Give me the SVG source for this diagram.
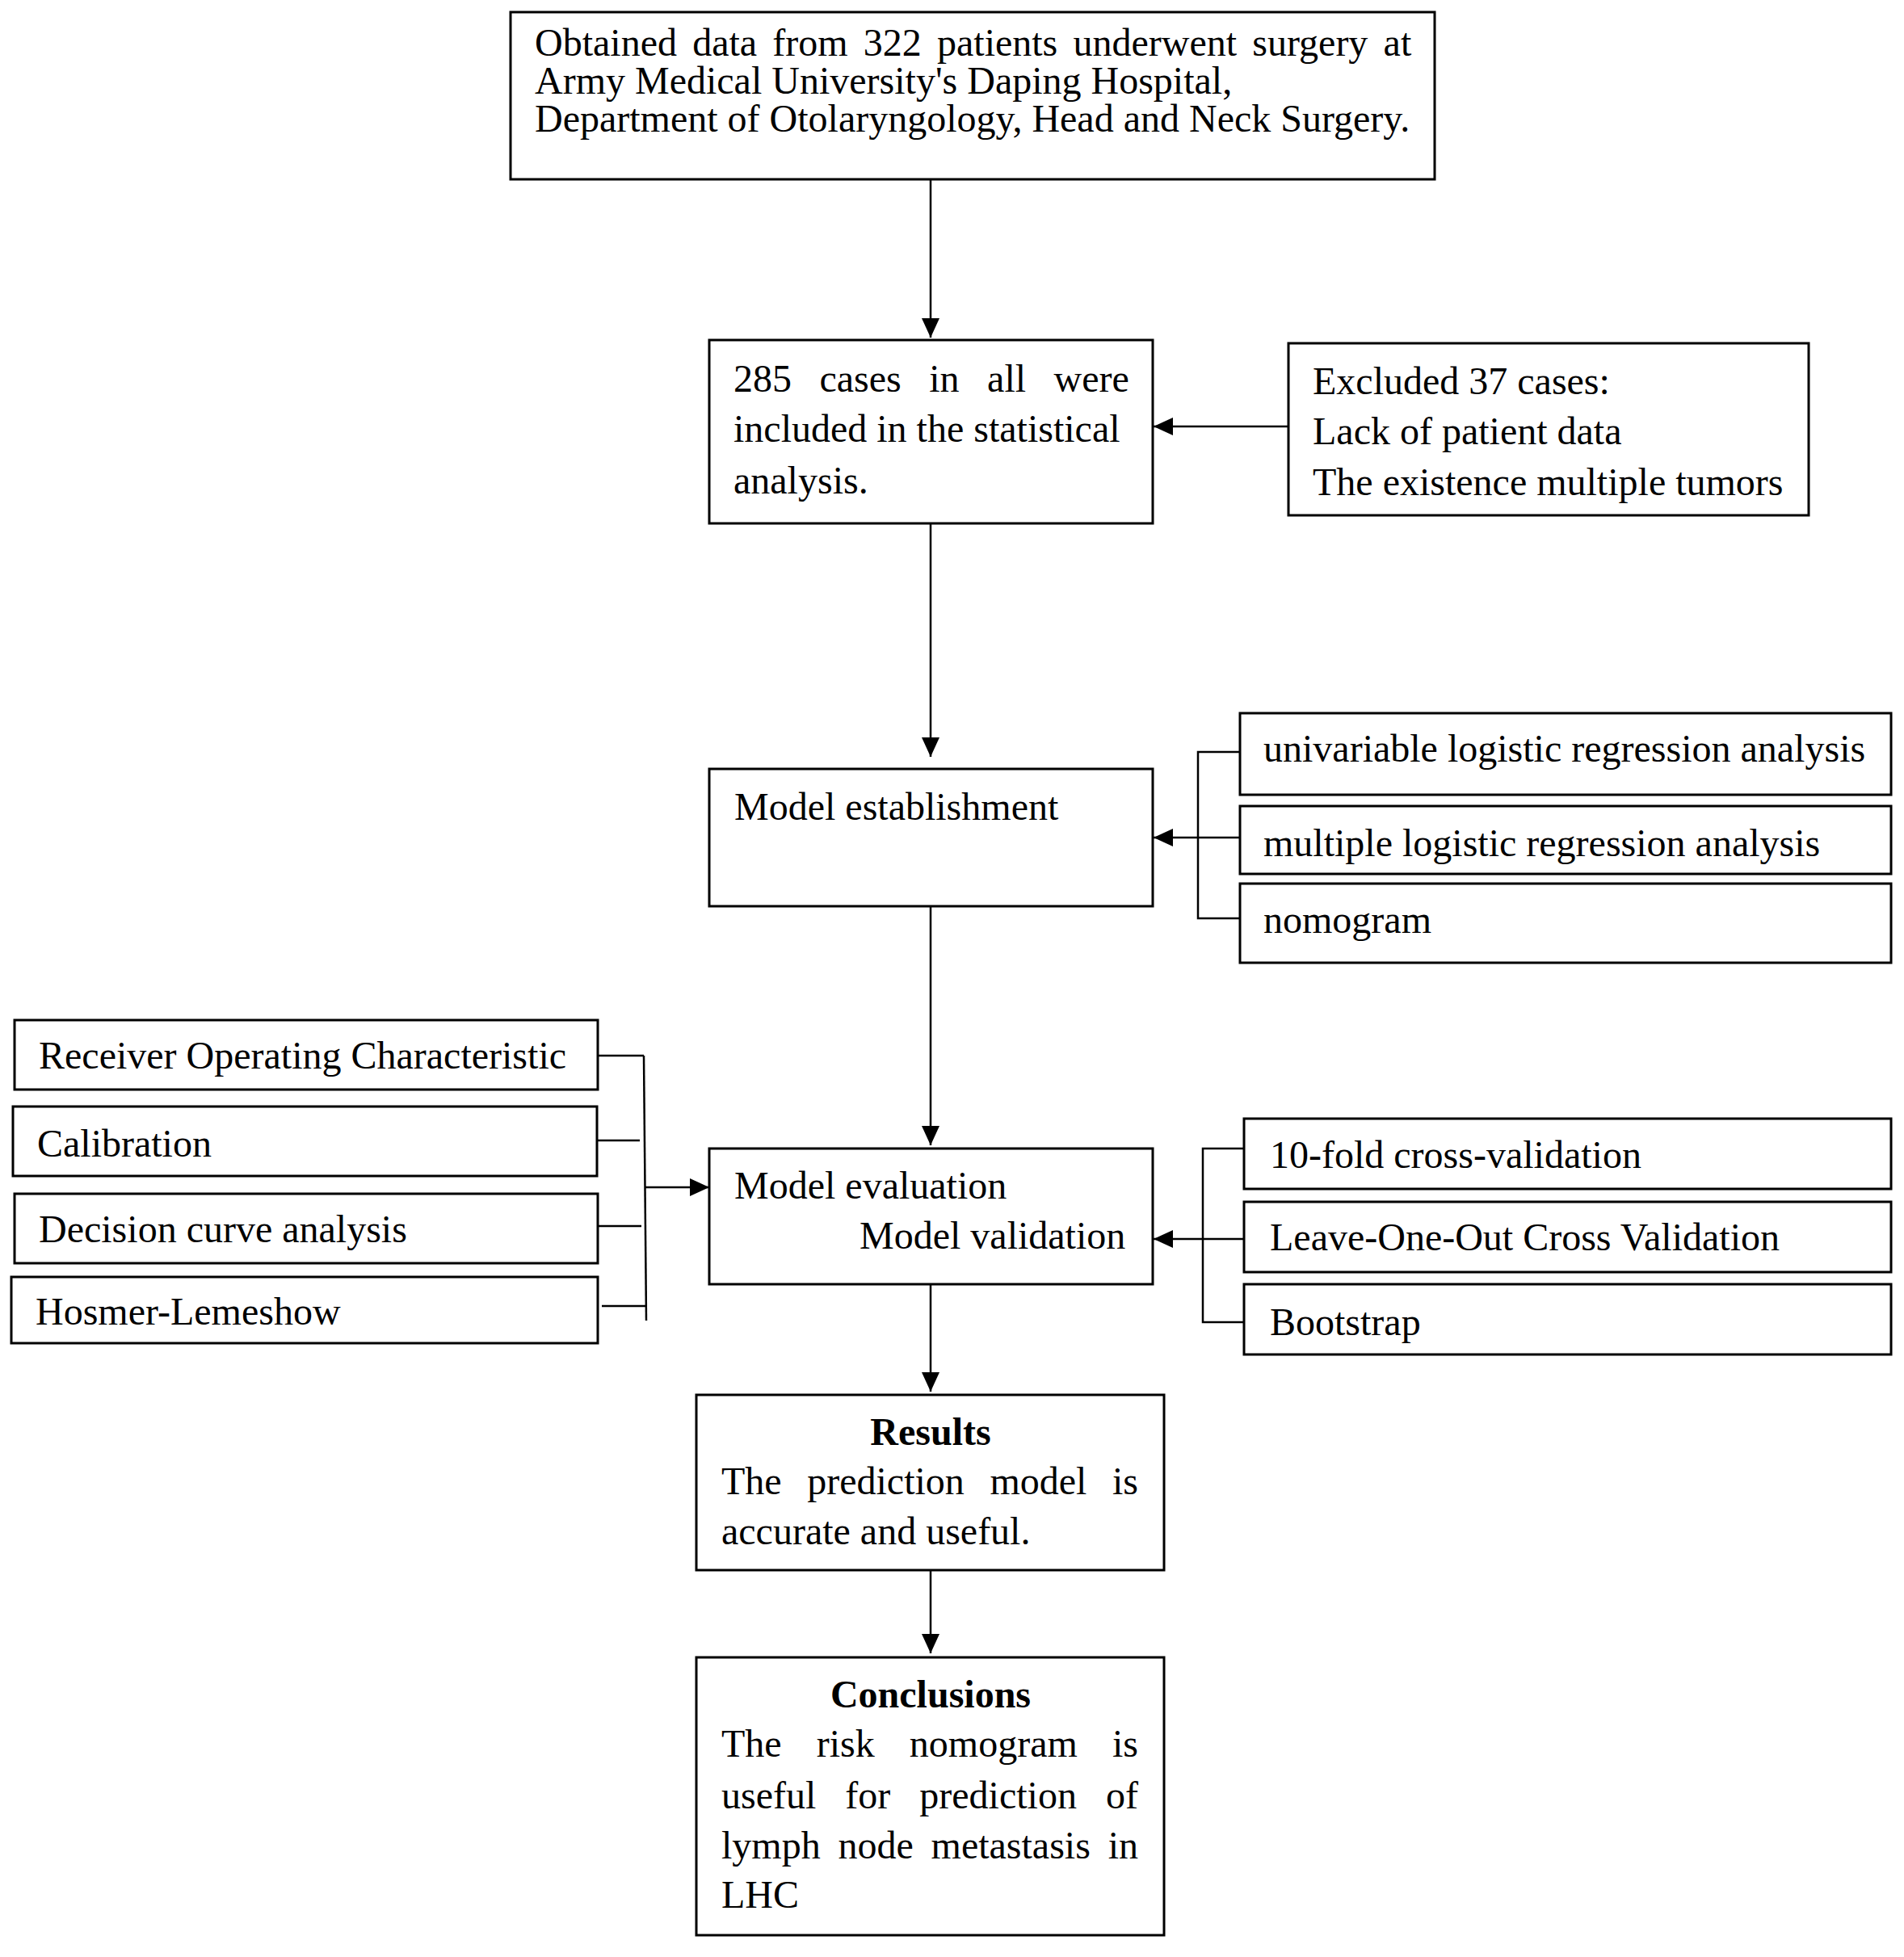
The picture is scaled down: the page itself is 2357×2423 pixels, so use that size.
<svg xmlns="http://www.w3.org/2000/svg" width="2357" height="2423" viewBox="0 0 2357 2423">
<style>
  .box { fill: #ffffff; stroke: #000000; stroke-width: 3; }
  .t { font-family: "Liberation Serif", "Times New Roman", serif; font-size: 48px; fill: #000000; }
  .b { font-weight: bold; text-anchor: middle; }
  .ln { fill: none; stroke: #000000; stroke-width: 2.5; }
</style>
<defs>
  <marker id="ah" markerUnits="userSpaceOnUse" markerWidth="24" markerHeight="22" refX="24" refY="11" orient="auto">
    <path d="M0,0 L24,11 L0,22 z" fill="#000000"/>
  </marker>
</defs>
<rect width="2357" height="2423" fill="#ffffff"/>

<g id="connectors">
  <line class="ln" x1="1152" y1="222" x2="1152" y2="418" marker-end="url(#ah)"/>
  <line class="ln" x1="1595" y1="528" x2="1428" y2="528" marker-end="url(#ah)"/>
  <line class="ln" x1="1152" y1="648" x2="1152" y2="937" marker-end="url(#ah)"/>
  <polyline class="ln" points="1535,931 1483,931 1483,1137 1535,1137"/>
  <line class="ln" x1="1535" y1="1037" x2="1428" y2="1037" marker-end="url(#ah)"/>
  <line class="ln" x1="1152" y1="1122" x2="1152" y2="1418" marker-end="url(#ah)"/>
  <line class="ln" x1="797" y1="1307" x2="800" y2="1635"/>
  <line class="ln" x1="740" y1="1307" x2="797" y2="1307"/>
  <line class="ln" x1="739" y1="1412" x2="792" y2="1412"/>
  <line class="ln" x1="740" y1="1518" x2="794" y2="1518"/>
  <line class="ln" x1="745" y1="1617" x2="799" y2="1617"/>
  <line class="ln" x1="799" y1="1470" x2="878" y2="1470" marker-end="url(#ah)"/>
  <polyline class="ln" points="1540,1422 1489,1422 1489,1637 1540,1637"/>
  <line class="ln" x1="1540" y1="1534" x2="1428" y2="1534" marker-end="url(#ah)"/>
  <line class="ln" x1="1152" y1="1590" x2="1152" y2="1723" marker-end="url(#ah)"/>
  <line class="ln" x1="1152" y1="1944" x2="1152" y2="2047" marker-end="url(#ah)"/>
</g>

<g id="n-source">
  <rect class="box" x="632" y="15" width="1144" height="207"/>
  <text class="t" x="662" y="69" word-spacing="7.2">Obtained data from 322 patients underwent surgery at</text>
  <text class="t" x="662" y="116">Army Medical University's Daping Hospital,</text>
  <text class="t" x="662" y="163">Department of Otolaryngology, Head and Neck Surgery.</text>
</g>

<g id="n-included">
  <rect class="box" x="878" y="421" width="549" height="227"/>
  <text class="t" x="908" y="485" word-spacing="22.5">285 cases in all were</text>
  <text class="t" x="908" y="547">included in the statistical</text>
  <text class="t" x="908" y="611">analysis.</text>
</g>

<g id="n-excluded">
  <rect class="box" x="1595" y="425" width="644" height="213"/>
  <text class="t" x="1625" y="488">Excluded 37 cases:</text>
  <text class="t" x="1625" y="550">Lack of patient data</text>
  <text class="t" x="1625" y="613">The existence multiple tumors</text>
</g>

<g id="n-establishment">
  <rect class="box" x="878" y="952" width="549" height="170"/>
  <text class="t" x="909" y="1015">Model establishment</text>
</g>

<g id="n-univariable">
  <rect class="box" x="1535" y="883" width="806" height="101"/>
  <text class="t" x="1564" y="943">univariable logistic regression analysis</text>
</g>
<g id="n-multiple">
  <rect class="box" x="1535" y="998" width="806" height="84"/>
  <text class="t" x="1564" y="1060">multiple logistic regression analysis</text>
</g>
<g id="n-nomogram">
  <rect class="box" x="1535" y="1094" width="806" height="98"/>
  <text class="t" x="1564" y="1155">nomogram</text>
</g>

<g id="n-roc">
  <rect class="box" x="18" y="1263" width="722" height="86"/>
  <text class="t" x="48" y="1323">Receiver Operating Characteristic</text>
</g>
<g id="n-calibration">
  <rect class="box" x="16" y="1370" width="723" height="86"/>
  <text class="t" x="46" y="1432">Calibration</text>
</g>
<g id="n-dca">
  <rect class="box" x="18" y="1478" width="722" height="86"/>
  <text class="t" x="48" y="1538">Decision curve analysis</text>
</g>
<g id="n-hl">
  <rect class="box" x="14" y="1581" width="726" height="82"/>
  <text class="t" x="44" y="1640">Hosmer-Lemeshow</text>
</g>

<g id="n-evaluation">
  <rect class="box" x="878" y="1422" width="549" height="168"/>
  <text class="t" x="909" y="1484">Model evaluation</text>
  <text class="t" x="1064" y="1546">Model validation</text>
</g>

<g id="n-tenfold">
  <rect class="box" x="1540" y="1385" width="801" height="87"/>
  <text class="t" x="1572" y="1446">10-fold cross-validation</text>
</g>
<g id="n-loocv">
  <rect class="box" x="1540" y="1488" width="801" height="87"/>
  <text class="t" x="1572" y="1548">Leave-One-Out Cross Validation</text>
</g>
<g id="n-bootstrap">
  <rect class="box" x="1540" y="1590" width="801" height="87"/>
  <text class="t" x="1572" y="1653">Bootstrap</text>
</g>

<g id="n-results">
  <rect class="box" x="862" y="1727" width="579" height="217"/>
  <text class="t b" x="1152" y="1789">Results</text>
  <text class="t" x="893" y="1850" word-spacing="19.6">The prediction model is</text>
  <text class="t" x="893" y="1912">accurate and useful.</text>
</g>

<g id="n-conclusions">
  <rect class="box" x="862" y="2052" width="579" height="344"/>
  <text class="t b" x="1152" y="2114">Conclusions</text>
  <text class="t" x="893" y="2175" word-spacing="31.1">The risk nomogram is</text>
  <text class="t" x="893" y="2239" word-spacing="24">useful for prediction of</text>
  <text class="t" x="893" y="2301" word-spacing="9.8">lymph node metastasis in</text>
  <text class="t" x="893" y="2362">LHC</text>
</g>
</svg>
